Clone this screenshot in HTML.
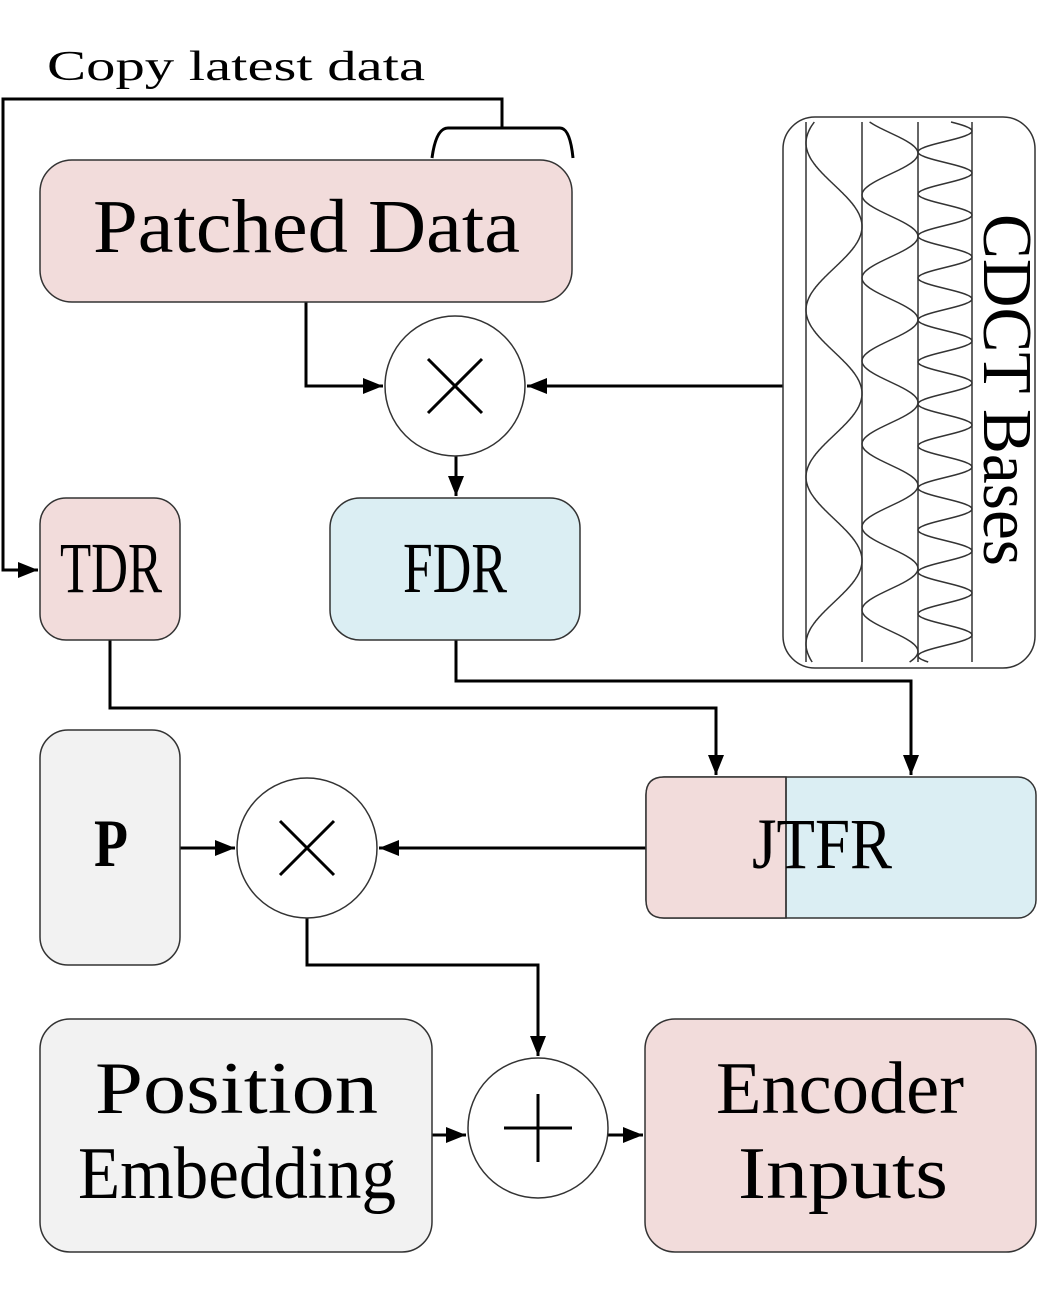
<!DOCTYPE html>
<html><head><meta charset="utf-8"><style>
body{margin:0;background:#fff}
svg{display:block}
.m{font-family:"Liberation Serif",serif}
.s{font-family:"Liberation Serif",serif}
</style></head><body>
<svg id="s" width="1063" height="1299" viewBox="0 0 1063 1299" xmlns="http://www.w3.org/2000/svg">
<defs>
<marker id="b" markerWidth="20" markerHeight="16" refX="20" refY="8" orient="auto" markerUnits="userSpaceOnUse"><path d="M0,0 L20,8 L0,16z" fill="#000"/></marker></defs>
<g fill="none" stroke="#000" stroke-width="3">
<path d="M502,128 V99 H3 V570 H38" marker-end="url(#b)"/>
<path d="M432,158 Q436,128 448,128 H560 Q570,128 573,158"/>
<path d="M306,302 V386 H383" marker-end="url(#b)"/>
<path d="M783,386 H527" marker-end="url(#b)"/>
<path d="M456,456 V496" marker-end="url(#b)"/>
<path d="M110,640 V708 H716 V775" marker-end="url(#b)"/>
<path d="M456,640 V681 H911 V775" marker-end="url(#b)"/>
<path d="M180,848 H235" marker-end="url(#b)"/>
<path d="M646,848 H379" marker-end="url(#b)"/>
<path d="M307,918 V965 H538 V1056" marker-end="url(#b)"/>
<path d="M432,1135 H466" marker-end="url(#b)"/>
<path d="M608,1135 H643" marker-end="url(#b)"/>
</g>
<g stroke="#333" stroke-width="1.5">
<rect x="40" y="160" width="532" height="142" rx="32" fill="#f2dcdb"/>
<rect x="40" y="498" width="140" height="142" rx="26" fill="#f2dcdb"/>
<rect x="330" y="498" width="250" height="142" rx="30" fill="#dbeef3"/>
<rect x="40" y="730" width="140" height="235" rx="28" fill="#f2f2f2"/>
<rect x="646" y="777" width="390" height="141" rx="18" fill="#dbeef3"/>
<path d="M786,777 H664 Q646,777 646,795 V900 Q646,918 664,918 H786 Z" fill="#f2dcdb"/>
<line x1="786" y1="777" x2="786" y2="918"/>
<rect x="40" y="1019" width="392" height="233" rx="30" fill="#f2f2f2"/>
<rect x="645" y="1019" width="391" height="233" rx="30" fill="#f2dcdb"/>
<rect x="783" y="117" width="252" height="551" rx="32" fill="#fff"/>
<circle cx="455" cy="386" r="70" fill="#fff"/>
<circle cx="307" cy="848" r="70" fill="#fff"/>
<circle cx="538" cy="1128" r="70" fill="#fff"/>
</g>
<g stroke="#000" stroke-width="3">
<path d="M428,359 L482,413 M482,359 L428,413"/>
<path d="M280,821 L334,875 M334,821 L280,875"/>
<path d="M538,1094 V1162 M504,1128 H572"/>
</g>
<g stroke="#333" stroke-width="1.5" fill="none" id="w">
<line x1="806" y1="122" x2="806" y2="662"/>
<line x1="862" y1="122" x2="862" y2="662"/>
<line x1="918" y1="122" x2="918" y2="662"/>
<line x1="972" y1="122" x2="972" y2="662"/>
</g>
<text class="m" x="47" y="80" font-size="42" textLength="378" lengthAdjust="spacingAndGlyphs">Copy latest data</text>
<text class="m" x="93" y="252" font-size="76" textLength="427" lengthAdjust="spacingAndGlyphs">Patched Data</text>
<text class="m" x="60" y="592" font-size="72" textLength="102" lengthAdjust="spacingAndGlyphs">TDR</text>
<text class="m" x="403" y="592" font-size="72" textLength="104" lengthAdjust="spacingAndGlyphs">FDR</text>
<text class="m" x="94" y="866" font-size="68" font-weight="bold" textLength="34" lengthAdjust="spacingAndGlyphs">P</text>
<text class="s" x="752" y="868" font-size="72" textLength="140" lengthAdjust="spacingAndGlyphs">JTFR</text>
<text class="m" x="95" y="1113" font-size="74" textLength="283" lengthAdjust="spacingAndGlyphs">Position</text>
<text class="m" x="78" y="1198" font-size="74" textLength="318" lengthAdjust="spacingAndGlyphs">Embedding</text>
<text class="m" x="716" y="1113" font-size="74" textLength="248" lengthAdjust="spacingAndGlyphs">Encoder</text>
<text class="m" x="738" y="1198" font-size="74" textLength="210" lengthAdjust="spacingAndGlyphs">Inputs</text>
<text class="s" transform="translate(984,214) rotate(90)" font-size="70" textLength="352" lengthAdjust="spacingAndGlyphs">CDCT Bases</text>
<script>
var g=document.getElementById('w');
function wave(c,a,p,y0){var s='';for(var y=122;y<=662;y+=1){var x=c-a*Math.cos(2*Math.PI*(y-y0)/p);s+=(s?' L':'M')+x.toFixed(1)+','+y;}
var e=document.createElementNS('http://www.w3.org/2000/svg','path');e.setAttribute('d',s);g.appendChild(e);}
wave(834,28,167,143);wave(890,28,83,195);wave(945,27,42,152);
</script>
</svg>
</body></html>
